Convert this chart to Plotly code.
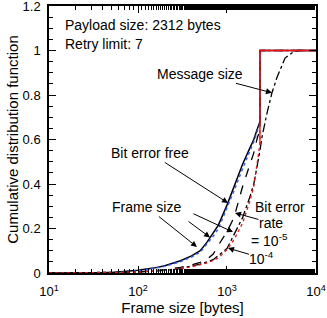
import numpy as np
import plotly.graph_objects as go

# ---- data ----
frame_x = [10, 50, 100, 150, 200, 300, 400, 500, 600, 700, 800, 1000, 1200, 1500, 1800, 2000, 2200, 2346, 2346, 10000]
cdf_error_free = [0, 0.002, 0.012, 0.022, 0.033, 0.055, 0.077, 0.10, 0.14, 0.18, 0.215, 0.305, 0.39, 0.49, 0.56, 0.60, 0.65, 0.68, 1.0, 1.0]
cdf_error_free_sim = [0, 0.002, 0.010, 0.020, 0.030, 0.051, 0.072, 0.094, 0.13, 0.165, 0.20, 0.29, 0.37, 0.47, 0.545, 0.59, 0.64, 0.67, 1.0, 1.0]
cdf_ber_1e5 = [0, 0.001, 0.005, 0.010, 0.015, 0.025, 0.036, 0.048, 0.062, 0.085, 0.125, 0.185, 0.25, 0.39, 0.48, 0.54, 0.61, 0.64, 1.0, 1.0]
cdf_ber_1e4 = [0, 0.001, 0.004, 0.008, 0.012, 0.020, 0.028, 0.037, 0.046, 0.056, 0.068, 0.105, 0.15, 0.225, 0.32, 0.39, 0.50, 0.58, 1.0, 1.0]

msg_x = [10, 100, 200, 300, 500, 700, 1000, 1500, 1800, 2000, 2346, 2470, 2820, 3200, 3650, 4490, 5390, 6300, 10000]
cdf_message = [0, 0.004, 0.012, 0.020, 0.040, 0.060, 0.11, 0.25, 0.34, 0.40, 0.55, 0.61, 0.72, 0.81, 0.88, 0.966, 0.99, 1.0, 1.0]

x_tick_vals = [10, 100, 1000, 10000]
x_tick_text = ["10<sup>1</sup>", "10<sup>2</sup>", "10<sup>3</sup>", "10<sup>4</sup>"]
y_tick_vals = [0, 0.2, 0.4, 0.6, 0.8, 1.0, 1.2]
y_tick_text = ["0", "0.2", "0.4", "0.6", "0.8", "1", "1.2"]

FONT = "Liberation Sans, Arial, sans-serif"

fig = go.Figure()
fig.add_trace(go.Scatter(x=frame_x, y=cdf_error_free, mode="lines",
                         line=dict(color="black", width=1.5, dash="solid")))
fig.add_trace(go.Scatter(x=frame_x, y=cdf_error_free_sim, mode="lines",
                         line=dict(color="#2f5bff", width=1.5, dash="dot")))
fig.add_trace(go.Scatter(x=frame_x, y=cdf_ber_1e5, mode="lines",
                         line=dict(color="black", width=1.3, dash="dash")))
fig.add_trace(go.Scatter(x=msg_x, y=cdf_message, mode="lines",
                         line=dict(color="black", width=1.3, dash="dashdot")))
fig.add_trace(go.Scatter(x=frame_x, y=cdf_ber_1e4, mode="lines",
                         line=dict(color="#ee1111", width=1.3, dash="dot")))
# red step at the maximum frame size
fig.add_trace(go.Scatter(x=frame_x[-3:], y=[cdf_ber_1e4[-3], 1.0, 1.0], mode="lines",
                         line=dict(color="#ee1111", width=1.3)))

L = np.log10
ann_font = dict(family=FONT, size=14, color="black")
arrow = dict(showarrow=True, arrowhead=2, arrowsize=1.2, arrowwidth=1, arrowcolor="black")

annotations = [
    dict(x=L(10) + 0.16, y=1.115, xref="x", yref="y", text="Payload size: 2312 bytes",
         showarrow=False, xanchor="left", font=ann_font),
    dict(x=L(10) + 0.16, y=1.03, xref="x", yref="y", text="Retry limit: 7",
         showarrow=False, xanchor="left", font=ann_font),
    dict(x=L(3200), y=0.81, xref="x", yref="y", text="Message size",
         ax=-72, ay=-19, font=ann_font, **arrow),
    dict(x=L(1026), y=0.315, xref="x", yref="y", text="Bit error free",
         ax=-78, ay=-50, font=ann_font, **arrow),
    dict(x=L(460), y=0.117, xref="x", yref="y", text="Frame size",
         ax=-50, ay=-40, font=ann_font, **arrow),
    dict(x=L(645), y=0.16, xref="x", yref="y", text="",
         ax=-23, ay=-17, **arrow),
    dict(x=L(1167), y=0.184, xref="x", yref="y", text="",
         ax=-41, ay=-19, **arrow),
    dict(x=3.292, y=0.297, xref="x", yref="y", text="Bit error",
         showarrow=False, xanchor="left", font=ann_font),
    dict(x=L(1230), y=0.27, xref="x", yref="y", text="rate",
         ax=36, ay=10, font=ann_font, borderpad=0, **arrow),
    dict(x=3.258, y=0.147, xref="x", yref="y", text="= 10<sup>-5</sup>",
         showarrow=False, xanchor="left", font=ann_font, borderpad=0),
    dict(x=L(1026), y=0.112, xref="x", yref="y", text="10<sup>-4</sup>",
         ax=34, ay=10, font=ann_font, borderpad=0, **arrow),
]

fig.update_layout(
    width=327, height=318,
    margin=dict(l=49, r=11, t=6, b=45),
    paper_bgcolor="white", plot_bgcolor="white",
    showlegend=False,
    font=dict(family=FONT, size=13, color="black"),
    annotations=annotations,
)
fig.update_xaxes(
    type="log", range=[1, 4.0001], automargin=False,
    tickvals=x_tick_vals, ticktext=x_tick_text, ticklabeloverflow="allow",
    ticklabelstandoff=6,
    ticks="inside", ticklen=7, tickwidth=1.3, tickcolor="black",
    minor=dict(ticks="inside", ticklen=4, tickwidth=1.1, tickcolor="black", showgrid=False),
    showline=True, linecolor="black", linewidth=1.5, mirror="allticks",
    showgrid=False, zeroline=False,
    tickfont=dict(size=13),
    title=dict(text="Frame size [bytes]", font=dict(size=15), standoff=3),
)
fig.update_yaxes(
    range=[0, 1.2001], automargin=False,
    tickvals=y_tick_vals, ticktext=y_tick_text, ticklabeloverflow="allow",
    ticklabelstandoff=4,
    ticks="inside", ticklen=7, tickwidth=1.3, tickcolor="black",
    minor=dict(ticks="inside", ticklen=4, tickwidth=1.1, tickcolor="black", dtick=0.05, showgrid=False),
    showline=True, linecolor="black", linewidth=1.5, mirror="allticks",
    showgrid=False, zeroline=False,
    tickfont=dict(size=13),
    title=dict(text="Cumulative distribution function", font=dict(size=15), standoff=0),
)

fig.write_html("out.html", config={"displayModeBar": False},
               post_script="document.body.style.margin='0';document.body.style.padding='0';")
